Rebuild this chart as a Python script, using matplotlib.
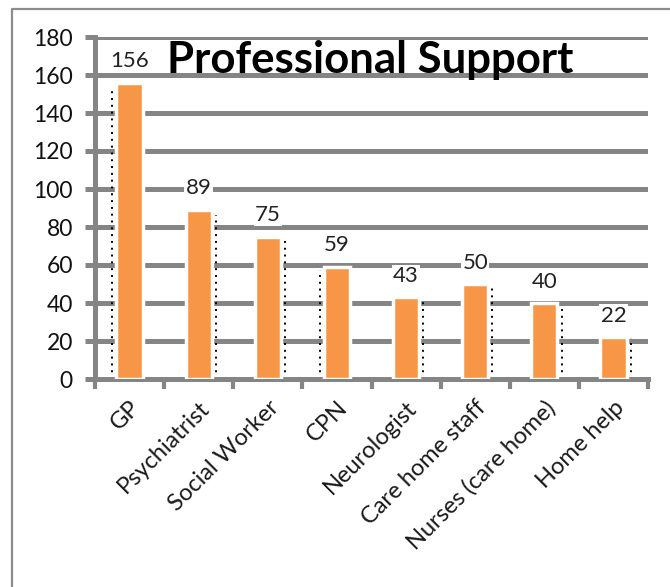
import matplotlib.pyplot as plt
from matplotlib.lines import Line2D
import numpy as np

categories = ["GP", "Psychiatrist", "Social Worker", "CPN", "Neurologist",
              "Care home staff", "Nurses (care home)", "Home help"]
counts = [156, 89, 75, 59, 43, 50, 40, 22]
# which side of each bar the dotted shadow line sits (-1 left, +1 right)
shadow_side = [-1, 1, 1, -1, 1, 1, 1, 1]

plt.rcParams['font.family'] = ['Lato', 'DejaVu Sans']

fig = plt.figure(figsize=(6.7, 5.87), dpi=100)
ax = fig.add_axes([95 / 670, 1 - 379 / 587, 553 / 670, 342 / 587])

x = np.arange(len(categories))
grid_col = '#858585'

for yv in range(20, 181, 20):
    ax.axhline(yv, color=grid_col, lw=3.6, zorder=1)

bars = ax.bar(x, counts, width=0.38, color='#F79646', edgecolor='white',
              linewidth=2.5, zorder=3)

for xi, v, s in zip(x, counts, shadow_side):
    xs = xi + s * 0.25
    ax.plot([xs, xs], [0, v * 0.97], color='black', lw=1.4,
            ls=(0, (1, 2.5)), zorder=2)

for xi, v in zip(x, counts):
    ax.text(xi, v + 6, str(v), ha='center', va='bottom', fontsize=16,
            color='#222222', zorder=4,
            bbox=dict(facecolor='white', edgecolor='none', pad=1))

ax.set_xlim(-0.5, len(categories) - 0.5)
ax.set_ylim(0, 180)
ax.set_yticks(range(0, 181, 20))
ax.tick_params(axis='y', labelsize=16.5, length=7, width=3.6, color=grid_col,
               labelcolor='#111111', pad=9)
ax.set_xticks(np.arange(-0.5, len(categories), 1))
ax.set_xticklabels([])
ax.set_xticks(x, minor=True)
ax.set_xticklabels(categories, minor=True, rotation=45, ha='right',
                   rotation_mode='anchor', fontsize=17, color='#1a1a1a')
ax.tick_params(axis='x', which='major', length=7, width=3, color=grid_col,
               direction='out')
ax.tick_params(axis='x', which='minor', length=0, pad=13)

for side in ['top', 'right']:
    ax.spines[side].set_visible(False)
ax.spines['left'].set_color(grid_col)
ax.spines['left'].set_linewidth(3.6)
ax.spines['bottom'].set_color(grid_col)
ax.spines['bottom'].set_linewidth(3.6)

fig.text(370 / 670, 1 - 73 / 587, "Professional Support", ha='center',
         va='baseline', fontsize=31.5, fontweight='bold', color='black')

# outer chart frame (only top and left edges are inside the picture)
fig.lines.append(Line2D([12 / 670, 12 / 670, 1.0], [0.0, 1 - 9 / 587, 1 - 9 / 587],
                        transform=fig.transFigure, color='#8c8c8c', lw=1.6))

fig.savefig('out.png', dpi=100)
